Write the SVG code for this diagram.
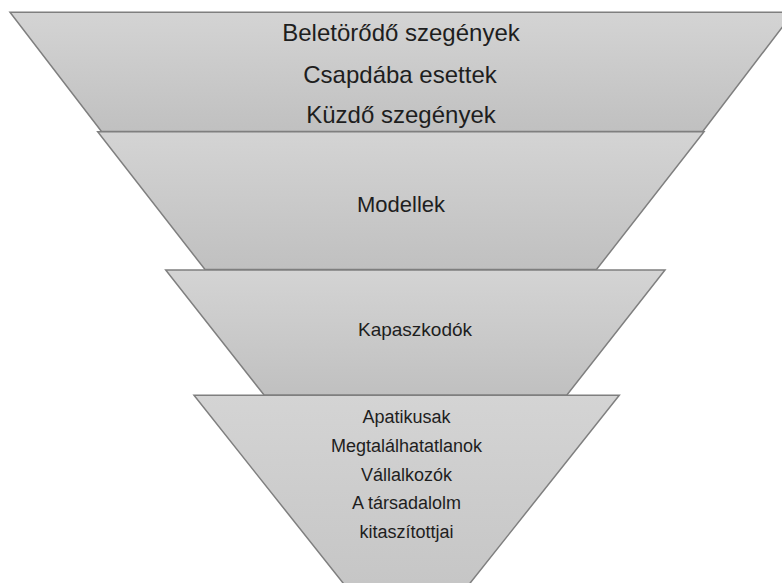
<svg xmlns="http://www.w3.org/2000/svg" width="782" height="583" viewBox="0 0 782 583">
  <defs>
    <linearGradient id="g" x1="0" y1="0" x2="0" y2="1">
      <stop offset="0" stop-color="#d4d4d4"/>
      <stop offset="1" stop-color="#c0c0c0"/>
    </linearGradient>
  </defs>
  <style>
    .seg { fill: url(#g); stroke: #7f7f7f; stroke-width: 1.5; stroke-linejoin: miter; }
    text { font-family: "Liberation Sans", Arial, sans-serif; fill: #1e1e1e; text-anchor: middle; }
    .t1 { font-size: 24px; }
    .t2 { font-size: 22px; }
    .t3 { font-size: 19px; }
    .t4 { font-size: 18px; }
  </style>
  <rect width="782" height="583" fill="#ffffff"/>
  <g id="level1">
    <polygon class="seg" points="10,12.3 793.5,12.3 702.7,131.5 101.5,131.5"/>
    <text class="t1" x="401" y="41">Beletörődő szegények</text>
    <text class="t1" x="400" y="82.5">Csapdába esettek</text>
    <text class="t1" x="401" y="123">Küzdő szegények</text>
  </g>
  <g id="level2">
    <polygon class="seg" points="97.7,131.7 704,131.7 596.5,269.5 205,269.5"/>
    <text class="t2" x="401" y="212">Modellek</text>
  </g>
  <g id="level3">
    <polygon class="seg" points="165.7,270 665,270 566.7,395.3 264.3,395.3"/>
    <text class="t3" x="415" y="336">Kapaszkodók</text>
  </g>
  <g id="level4">
    <polygon class="seg" points="194,395.3 619.3,395.3 406.6,663"/>
    <text class="t4" x="406.5" y="423.3">Apatikusak</text>
    <text class="t4" x="406.5" y="451.8">Megtalálhatatlanok</text>
    <text class="t4" x="406.5" y="480.5">Vállalkozók</text>
    <text class="t4" x="406.5" y="509">A társadalolm</text>
    <text class="t4" x="406.5" y="537.5">kitaszítottjai</text>
  </g>
  <g id="connectors"/>
</svg>
